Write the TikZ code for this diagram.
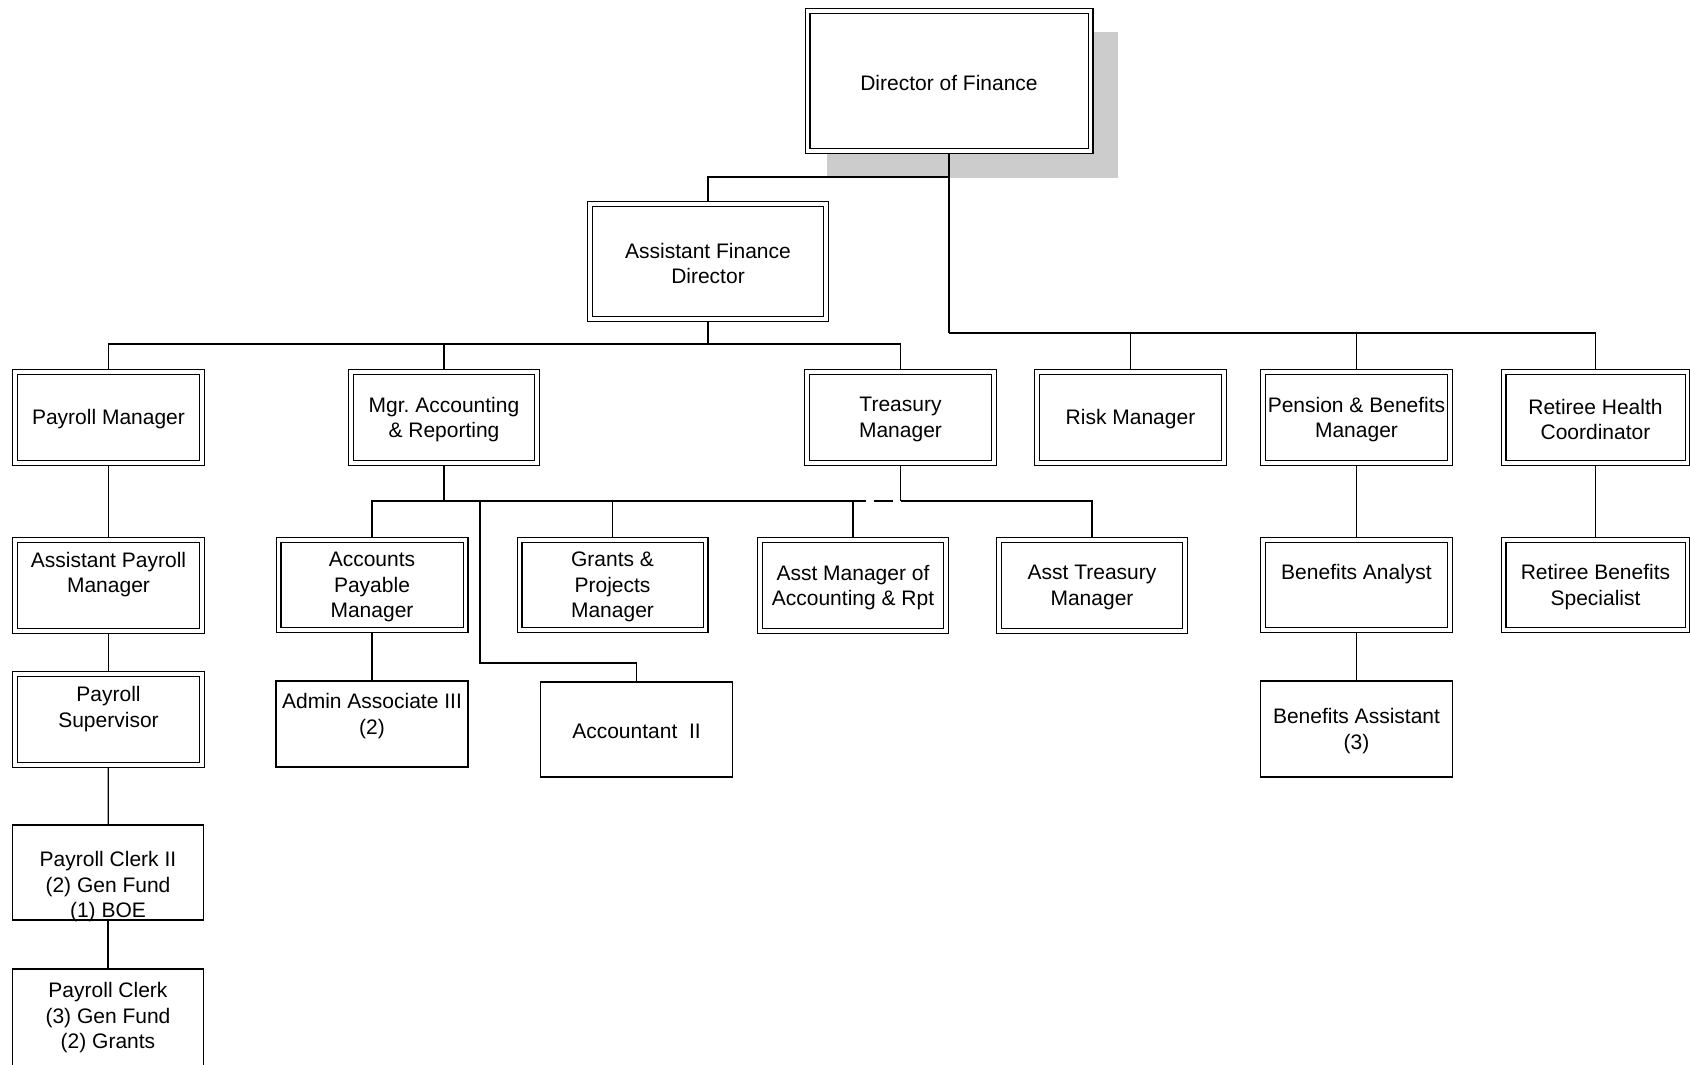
\documentclass[tikz,border=0pt]{standalone}
\usepackage{fontspec}
\setmainfont{Liberation Sans}
\usetikzlibrary{calc}
\pgfdeclarelayer{shadowlayer}
\pgfdeclarelayer{connlayer}
\pgfsetlayers{shadowlayer,connlayer,main}
\frenchspacing
\tikzset{
  box/.style={draw, fill=white, line width=1.2pt, inner sep=0pt, outer sep=0pt},
  dbl/.style={draw, fill=white, line width=1.3pt, double=white, double distance=3.4pt, inner sep=0pt, outer sep=0pt},
  txt/.style={font=\fontsize{21}{25.5}\selectfont, align=center, inner sep=0pt, yshift=-2pt},
  conn/.style={line width=1.3pt},
  connb/.style={line width=2pt},
  connm/.style={line width=1.7pt},
  shadowfill/.style={fill=black!20, draw=none},
}
\begin{document}
\begin{tikzpicture}[x=1pt,y=-1pt]
\begin{pgfonlayer}{shadowlayer}
  \fill[white] (0,0) rectangle (1690,1065);
  \path[shadowfill] (827,32) rectangle (1118,178);
\end{pgfonlayer}
\useasboundingbox (0,0) rectangle (1690,1065);

% ---- level 0/1
\node[dbl, minimum width=283pt, minimum height=140pt] (dir) at (949,81) {};
\node[txt] (dirt) at (dir.center) {Director of Finance};
\node[dbl, minimum width=236pt, minimum height=115pt] (afd) at (708,261.5) {};
\node[txt] (afdt) at (afd.center) {Assistant Finance\\Director};

% ---- row 2 (369-466)
\node[dbl, minimum width=187pt, minimum height=91pt] (pm) at (108.5,417.5) {};
\node[txt] (pmt) at (pm.center) {Payroll Manager};
\node[dbl, minimum width=186pt, minimum height=91pt] (mar) at (444,417.5) {};
\node[txt] (mart) at (mar.center) {Mgr. Accounting\\\& Reporting};
\node[dbl, minimum width=187pt, minimum height=91pt] (tm) at (900.5,417.5) {};
\node[txt] (tmt) at (tm.center) {Treasury\\Manager};
\node[dbl, minimum width=187pt, minimum height=91pt] (risk) at (1130.5,417.5) {};
\node[txt] (riskt) at (risk.center) {Risk Manager};
\node[dbl, minimum width=187pt, minimum height=91pt] (pb) at (1356.5,417.5) {};
\node[txt] (pbt) at (pb.center) {Pension \& Benefits\\Manager};
\node[dbl, minimum width=184pt, minimum height=91pt] (ret) at (1595.5,417.5) {};
\node[txt] (rett) at (ret.center) {Retiree Health\\Coordinator};

% ---- row 3 (537-634)
\node[dbl, minimum width=187pt, minimum height=91pt] (apm) at (108.5,585.5) {};
\node[txt] (apmt) at ($(apm.center)+(0,-13)$) {Assistant Payroll\\Manager};
\node[dbl, minimum width=187pt, minimum height=90pt] (ap) at (372,585) {};
\node[txt] (apt) at (ap.center) {Accounts\\Payable\\Manager};
\node[dbl, minimum width=186pt, minimum height=90pt] (gp) at (612.5,585) {};
\node[txt] (gpt) at (gp.center) {Grants \&\\Projects\\Manager};
\node[dbl, minimum width=186pt, minimum height=91pt] (am) at (853,585.5) {};
\node[txt] (amt) at (am.center) {Asst Manager of\\Accounting \& Rpt};
\node[dbl, minimum width=186pt, minimum height=91pt] (atm) at (1092,585.5) {};
\node[txt] (atmt) at (atm.center) {Asst Treasury\\Manager};
\node[dbl, minimum width=187pt, minimum height=90pt] (ba) at (1356.5,585) {};
\node[txt] (bat) at ($(ba.center)+(0,-13)$) {Benefits Analyst};
\node[dbl, minimum width=184pt, minimum height=90pt] (rbs) at (1595.5,585) {};
\node[txt] (rbst) at (rbs.center) {Retiree Benefits\\Specialist};

% ---- row 4
\node[dbl, minimum width=187pt, minimum height=91pt] (ps) at (108.5,719.5) {};
\node[txt] (pst) at ($(ps.center)+(0,-12.5)$) {Payroll\\Supervisor};
\node[box, minimum width=192pt, minimum height=86pt] (aa3) at (372,724) {};
\node[txt] (aa3t) at ($(aa3.center)+(0,-10)$) {Admin Associate III\\(2)};
\node[box, minimum width=192pt, minimum height=95pt] (acc2) at (636.5,729.5) {};
\node[txt] (acc2t) at (acc2.center) {Accountant~~II};
\node[box, minimum width=192pt, minimum height=96pt] (bas) at (1356.5,729) {};
\node[txt] (bast) at (bas.center) {Benefits Assistant\\(3)};

% ---- row 5
\node[box, minimum width=191pt, minimum height=95pt] (pc2) at (108,872.5) {};
\node[box, minimum width=191pt, minimum height=120pt] (pc) at (108,1029) {};

% ---- connectors
\begin{pgfonlayer}{connlayer}
  \draw[connb] (dir.south) -- (dir.south |- 0,333);
  \draw[conn] (dir.south |- 0,333) -| (ret.north);
  \draw[conn] (dir.south) |- (afd.north |- 0,177) -- (afd.north);
  \draw[conn] (risk.north) -- (risk.north |- 0,333);
  \draw[conn] (pb.north) -- (pb.north |- 0,333);

  \draw[conn] (pm.north) |- (tm.north |- 0,344) -- (tm.north);
  \draw[connm] (afd.south) -- (afd.south |- 0,344);
  \draw[conn] (mar.north) -- (mar.north |- 0,344);

  \draw[connm] (mar.south) -- (mar.south |- 0,501);
  \draw[connm] (ap.north) |- (gp.north |- 0,501) -- (gp.north);
  \draw[conn] (gp.north |- 0,501) -| (am.north);
  \draw[conn, dash pattern=on 13pt off 8pt on 19pt off 8pt] (am.north |- 0,501) -- (tm.south |- 0,501);
  \draw[connm] (tm.south) -- (tm.south |- 0,501);
  \draw[conn] (tm.south |- 0,501) -| (atm.north);
  \coordinate (accj) at (480,501);
  \draw[conn] (accj) |- (acc2.north |- 0,663) -- (acc2.north);

  \draw[conn] (pm) -- (apm);
  \draw[conn] (apm) -- (ps);
  \draw[conn] (ps) -- (pc2);
  \draw[connm] (pc2) -- (pc);
  \draw[conn] (ap) -- (aa3);
  \draw[conn] (pb) -- (ba);
  \draw[conn] (ba) -- (bas);
  \draw[conn] (ret) -- (rbs);
\end{pgfonlayer}

% texts that run over the borders are drawn last
\node[txt] (pc2t) at ($(pc2.center)+(0,12.5)$) {Payroll Clerk II\\(2) Gen Fund\\(1) BOE};
\node[txt] (pct) at (108,1016) {Payroll Clerk\\(3) Gen Fund\\(2) Grants};
\end{tikzpicture}
\end{document}
